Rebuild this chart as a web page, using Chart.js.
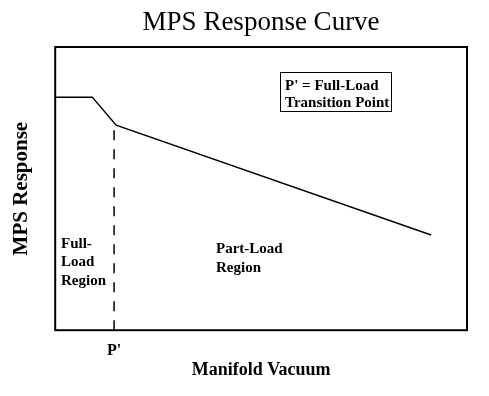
<!DOCTYPE html>
<html>
<head>
<meta charset="utf-8">
<script src="https://cdn.jsdelivr.net/npm/chart.js@4/dist/chart.umd.min.js"></script>
<style>
  body { margin: 0; background: #fff; }
  #wrap { width: 489px; height: 396px; }
</style>
</head>
<body>
<div id="wrap"><canvas id="mpsChart" width="489" height="396"></canvas></div>
<script>
// curve (x = manifold vacuum, y = MPS response, both 0..100)
const curveX = [0, 9, 14.8, 91.3];
const curveY = [82.3, 82.3, 72.4, 33.6];

// dashed marker at P'
const markerX = [14.3, 14.3];
const markerY = [0, 71];

// x tick (only P')
const tickValues = [14.3];
const tickLabels = ["P'"];

const SERIF = "'Liberation Serif', 'Times New Roman', serif";

function toPoints(xs, ys) {
  return xs.map((x, i) => ({ x: x, y: ys[i] }));
}

// frame around the plot + the text notes
const notesPlugin = {
  id: "notes",
  beforeDatasetsDraw(chart) {
    const { ctx, chartArea: a } = chart;
    ctx.save();
    ctx.strokeStyle = "#000";
    ctx.lineWidth = 2;
    ctx.strokeRect(a.left, a.top, a.right - a.left, a.bottom - a.top);
    ctx.restore();
  },
  afterDatasetsDraw(chart) {
    const ctx = chart.ctx;
    ctx.save();
    ctx.fillStyle = "#000";
    ctx.font = "bold 15px " + SERIF;
    ctx.textBaseline = "alphabetic";
    ctx.textAlign = "left";

    // full-load region
    ctx.fillText("Full-", 61, 248);
    ctx.fillText("Load", 61, 266);
    ctx.fillText("Region", 61, 285);

    // part-load region
    ctx.fillText("Part-Load", 216, 253);
    ctx.fillText("Region", 216, 272);

    // note box
    ctx.fillText("P' = Full-Load", 285, 90);
    ctx.fillText("Transition Point", 285, 107);
    ctx.lineWidth = 1;
    ctx.strokeStyle = "#000";
    ctx.strokeRect(280.5, 72.5, 111, 39);
    ctx.restore();
  }
};

const chart = new Chart(document.getElementById("mpsChart"), {
  type: "line",
  data: {
    datasets: [
      {
        label: "MPS Response",
        data: toPoints(curveX, curveY),
        borderColor: "#000",
        borderWidth: 1.5,
        pointRadius: 0,
        tension: 0,
        fill: false
      },
      {
        label: "P'",
        data: toPoints(markerX, markerY),
        borderColor: "#000",
        borderWidth: 1.5,
        borderDash: [10, 9],
        pointRadius: 0,
        fill: false
      }
    ]
  },
  options: {
    responsive: false,
    animation: false,
    layout: { padding: { left: 0, right: 22, top: 0, bottom: 0 } },
    plugins: {
      legend: { display: false },
      tooltip: { enabled: false },
      title: {
        display: true,
        fullSize: false,
        text: "MPS Response Curve",
        color: "#000",
        font: { family: SERIF, size: 27, weight: "normal" },
        padding: { top: 7, bottom: 7.6 }
      }
    },
    scales: {
      x: {
        type: "linear",
        min: 0,
        max: 100,
        grid: { display: false, drawTicks: false },
        border: { display: false },
        afterBuildTicks: (scale) => {
          scale.ticks = tickValues.map(v => ({ value: v }));
        },
        ticks: {
          autoSkip: false,
          maxRotation: 0,
          padding: 11.5,
          color: "#000",
          font: { family: SERIF, size: 16, weight: "bold" },
          callback: (value, index) => tickLabels[index]
        },
        title: {
          display: true,
          text: "Manifold Vacuum",
          color: "#000",
          font: { family: SERIF, size: 18, weight: "bold" },
          padding: { top: -13, bottom: 15 }
        }
      },
      y: {
        min: 0,
        max: 100,
        grid: { display: false, drawTicks: false },
        border: { display: false },
        ticks: { display: false },
        title: {
          display: true,
          text: "MPS Response",
          color: "#000",
          font: { family: SERIF, size: 21, weight: "bold" },
          padding: { top: 9, bottom: 21 }
        }
      }
    }
  },
  plugins: [notesPlugin]
});
</script>
</body>
</html>
